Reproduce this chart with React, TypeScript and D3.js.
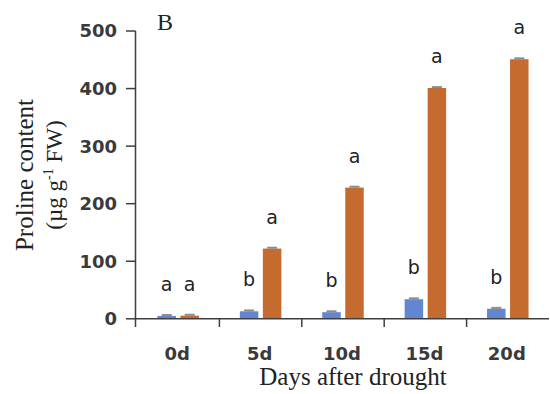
import React from 'react';
import * as d3 from 'd3';

// data
const days = ['0d', '5d', '10d', '15d', '20d'];
const control = [5, 13, 11.5, 34, 17.5];
const drought = [5.5, 122, 228, 401, 451];
const controlErr = [1.5, 1.5, 1.5, 1.5, 1.5];
const droughtErr = [1.5, 1.5, 1.5, 1.5, 1.5];
const controlLetters = ['a', 'b', 'b', 'b', 'b'];
const droughtLetters = ['a', 'a', 'a', 'a', 'a'];
const yTicks = [0, 100, 200, 300, 400, 500];

const W = 550;
const H = 394;

const App = () => {
    const x = d3.scaleBand().domain(days).range([137, 549]);
    const y = d3.scaleLinear().domain([0, 500]).range([318.8, 31]);
    const axisColor = '#3f3f3f';
    const tickFont = '"DejaVu Sans", sans-serif';
    const serif = '"Liberation Serif", "Times New Roman", serif';

    const series = [
        { vals: control, err: controlErr, letters: controlLetters, color: '#6286d0', off: -11.5 },
        { vals: drought, err: droughtErr, letters: droughtLetters, color: '#c66b2f', off: 11.5 },
    ];
    const barW = 18.5;

    return (
        <svg width={W} height={H} style={{ position: 'absolute', left: 0, top: 0, background: '#fff' }}>
            <rect width={W} height={H} fill="#fff" />

            {/* bars, error caps and letters */}
            {series.map((s, si) =>
                s.vals.map((v, i) => {
                    const cx = (x(days[i]) as number) + x.bandwidth() / 2 + s.off;
                    return (
                        <g key={si + '-' + i}>
                            <rect x={cx - barW / 2} y={y(v)} width={barW} height={y(0) - y(v)} fill={s.color} />
                            <line x1={cx} x2={cx} y1={y(v - s.err[i])} y2={y(v + s.err[i])} stroke="#8c8c8c" strokeWidth={1} />
                            <line x1={cx - 5} x2={cx + 5} y1={y(v + s.err[i])} y2={y(v + s.err[i])} stroke="#8c8c8c" strokeWidth={2} />
                            <text x={cx} y={y(v) - 25} textAnchor="middle" fontFamily={tickFont} fontSize={19} fill="#222">
                                {s.letters[i]}
                            </text>
                        </g>
                    );
                })
            )}

            {/* y axis */}
            <line x1={135.5} x2={135.5} y1={y(500)} y2={327} stroke={axisColor} strokeWidth={1.5} />
            {yTicks.map(t => (
                <g key={t}>
                    <line x1={126} x2={135.5} y1={y(t)} y2={y(t)} stroke={axisColor} strokeWidth={1.5} />
                    <text x={117} y={y(t)} dy="0.36em" textAnchor="end" fontFamily={tickFont} fontWeight="bold" fontSize={18} fill="#3a3a3a">
                        {t}
                    </text>
                </g>
            ))}

            {/* x axis */}
            <line x1={135.5} x2={549} y1={y(0)} y2={y(0)} stroke={axisColor} strokeWidth={1.5} />
            {days.slice(1).map(d => (
                <line key={d} x1={x(d)} x2={x(d)} y1={y(0)} y2={327} stroke={axisColor} strokeWidth={1.5} />
            ))}
            {days.map(d => (
                <text key={d} x={(x(d) as number) + x.bandwidth() / 2 - 1} y={360} textAnchor="middle" fontFamily={tickFont} fontWeight="bold" fontSize={18} fill="#3a3a3a">
                    {d}
                </text>
            ))}

            {/* titles */}
            <text x={353} y={385} textAnchor="middle" fontFamily={serif} fontSize={25} fill="#222">Days after drought</text>
            <text x={165} y={30} textAnchor="middle" fontFamily={serif} fontSize={24} fill="#222">B</text>
            <g transform="translate(33,175) rotate(-90)">
                <text x={0} y={0} textAnchor="middle" fontFamily={serif} fontSize={25} fill="#222">Proline content</text>
                <text x={0} y={29} textAnchor="middle" fontFamily={serif} fontSize={23} fill="#222">
                    (µg g<tspan fontSize={14} dy={-9}>-1</tspan><tspan dy={9}> FW)</tspan>
                </text>
            </g>
        </svg>
    );
};

export default App;
